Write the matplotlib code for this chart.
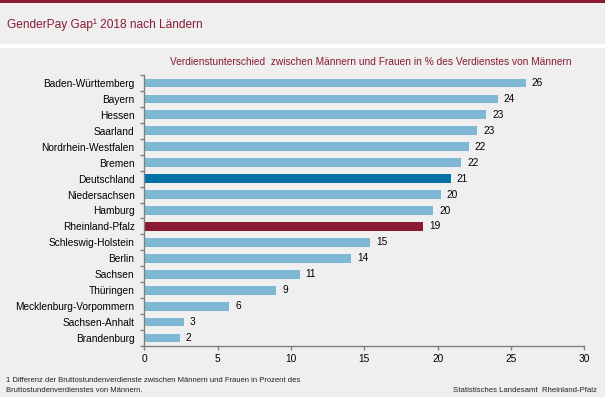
import matplotlib
matplotlib.use("Agg")
import matplotlib.pyplot as plt
from matplotlib.patches import Rectangle
import numpy as np

plt.rcParams['font.family'] = ['Liberation Sans', 'DejaVu Sans']

laender = ["Baden-Württemberg", "Bayern", "Hessen", "Saarland", "Nordrhein-Westfalen",
           "Bremen", "Deutschland", "Niedersachsen", "Hamburg", "Rheinland-Pfalz",
           "Schleswig-Holstein", "Berlin", "Sachsen", "Thüringen",
           "Mecklenburg-Vorpommern", "Sachsen-Anhalt", "Brandenburg"]
werte = [26.0, 24.1, 23.3, 22.7, 22.1, 21.6, 20.9, 20.2, 19.7, 19.0,
         15.4, 14.1, 10.6, 9.0, 5.8, 2.7, 2.4]
wert_labels = ["26", "24", "23", "23", "22", "22", "21", "20", "20", "19",
               "15", "14", "11", "9", "6", "3", "2"]
x_ticks = [0, 5, 10, 15, 20, 25, 30]

BG = "#EEEFEE"
RED = "#8B1A32"
LIGHT = "#7FB8D4"
DE = "#0072A3"

colors = []
for name in laender:
    if name == "Deutschland":
        colors.append(DE)
    elif name == "Rheinland-Pfalz":
        colors.append(RED)
    else:
        colors.append(LIGHT)

fig = plt.figure(figsize=(6.05, 3.97), dpi=100, facecolor=BG)
W, H = 605, 397

def fy(py):
    return 1 - py / H

# top red line and white separator
fig.add_artist(Rectangle((0, fy(3)), 1, 3 / H, transform=fig.transFigure,
                         facecolor=RED, edgecolor="none"))
fig.add_artist(Rectangle((0, fy(48)), 1, 3.5 / H, transform=fig.transFigure,
                         facecolor="white", edgecolor="none"))

fig.text(7 / W, fy(24.5), "GenderPay Gap¹ 2018 nach Ländern", color=RED,
         fontsize=8.6, va="center", ha="left")
fig.text(572 / W, fy(62), "Verdienstunterschied  zwischen Männern und Frauen in % des Verdienstes von Männern",
         color=RED, fontsize=7.25, va="center", ha="right")

ax = fig.add_axes([144.3 / W, 1 - 346 / H, (584.4 - 144.3) / W, (346 - 75) / H])
ax.set_facecolor(BG)

n = len(laender)
y = np.arange(n)
ax.barh(y, werte, height=0.55, color=colors, zorder=2)
for yi, v, lab in zip(y, werte, wert_labels):
    ax.text(v + 0.4, yi, lab, va="center", ha="left", fontsize=7.3, color="black")

ax.set_ylim(n - 0.5, -0.5)
ax.set_xlim(0, 30)
ax.set_yticks(y)
ax.set_yticklabels(laender, fontsize=7.3)
ax.tick_params(axis="y", which="major", length=0, pad=7)
ax.set_yticks(np.arange(-0.5, n, 1), minor=True)
ax.tick_params(axis="y", which="minor", length=3, color="#808080", width=1)
ax.set_xticks(x_ticks)
ax.set_xticklabels([str(t) for t in x_ticks], fontsize=7.3)
ax.tick_params(axis="x", length=3, color="#808080", width=1, pad=2.5)

for s in ["top", "right"]:
    ax.spines[s].set_visible(False)
for s in ["left", "bottom"]:
    ax.spines[s].set_color("#808080")
    ax.spines[s].set_linewidth(1)

fig.text(6 / W, fy(380.5), "1 Differenz der Bruttostundenverdienste zwischen Männern und Frauen in Prozent des",
         fontsize=5.5, va="center", ha="left", color="#222222")
fig.text(6 / W, fy(390), "Bruttostundenverdienstes von Männern.",
         fontsize=5.5, va="center", ha="left", color="#222222")
fig.text(597 / W, fy(390), "Statistisches Landesamt  Rheinland-Pfalz",
         fontsize=5.6, va="center", ha="right", color="#222222")

fig.savefig("out.png", dpi=100, facecolor=BG)
